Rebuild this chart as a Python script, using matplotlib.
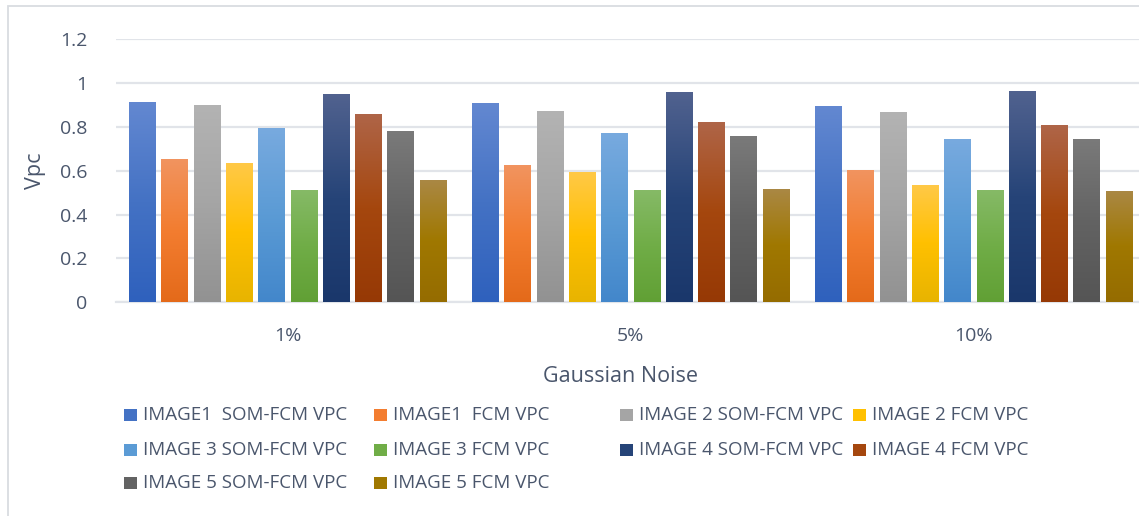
import numpy as np
import matplotlib.pyplot as plt
from matplotlib.patches import Rectangle
from matplotlib.colors import LinearSegmentedColormap

plt.rcParams['font.family'] = ['Open Sans', 'DejaVu Sans']

noise_levels = ['1%', '5%', '10%']
series_names = ['IMAGE1  SOM-FCM VPC', 'IMAGE1  FCM VPC',
                'IMAGE 2 SOM-FCM VPC', 'IMAGE 2 FCM VPC',
                'IMAGE 3 SOM-FCM VPC', 'IMAGE 3 FCM VPC',
                'IMAGE 4 SOM-FCM VPC', 'IMAGE 4 FCM VPC',
                'IMAGE 5 SOM-FCM VPC', 'IMAGE 5 FCM VPC']

img1_som = [0.915, 0.910, 0.896]
img1_fcm = [0.654, 0.627, 0.604]
img2_som = [0.901, 0.874, 0.869]
img2_fcm = [0.636, 0.595, 0.536]
img3_som = [0.796, 0.773, 0.746]
img3_fcm = [0.513, 0.513, 0.513]
img4_som = [0.951, 0.960, 0.965]
img4_fcm = [0.860, 0.823, 0.810]
img5_som = [0.782, 0.759, 0.746]
img5_fcm = [0.558, 0.517, 0.508]

series = [img1_som, img1_fcm, img2_som, img2_fcm, img3_som,
          img3_fcm, img4_som, img4_fcm, img5_som, img5_fcm]

# (top, middle, bottom) shades for the vertical gradient of each series
shades = [('#6388D1', '#4472C4', '#2F61BD'),
          ('#F19460', '#F37D30', '#E46A1A'),
          ('#B3B3B3', '#A5A5A5', '#929292'),
          ('#FFC948', '#FFC000', '#E8B400'),
          ('#78AADF', '#5B9BD5', '#4387CB'),
          ('#86BA67', '#70AD47', '#61A035'),
          ('#51628F', '#264478', '#1A376B'),
          ('#AF6548', '#A5470E', '#963905'),
          ('#7A7A7A', '#636363', '#555555'),
          ('#AA8845', '#A07800', '#956C00')]

text_color = '#4A566C'
grid_color = '#E1E4E9'

fig = plt.figure(figsize=(11.39, 5.16), dpi=100)
fig.patch.set_facecolor('white')

# chart frame (runs off the right and bottom edges)
fig.patches.append(Rectangle((8 / 1139, -0.2), 1.2, 1.2 - 6 / 516,
                             transform=fig.transFigure, fill=False,
                             edgecolor='#D9DCE1', linewidth=1.3))

ax = fig.add_axes([116.35 / 1139, 1 - 302.3 / 516, 1029 / 1139, 263 / 516])

x = np.arange(len(noise_levels))
width = 0.0787
step = 0.0942

for i, vals in enumerate(series):
    top, mid, bot = shades[i]
    cmap = LinearSegmentedColormap.from_list('g%d' % i, [bot, mid, top])
    grad = np.linspace(0, 1, 128).reshape(-1, 1)
    bars = ax.bar(x + (i - 4.5) * step, vals, width, color=mid, zorder=2)
    for b in bars:
        x0, y0 = b.get_x(), b.get_y()
        im = ax.imshow(grad, cmap=cmap, origin='lower', aspect='auto',
                       extent=(x0, x0 + b.get_width(), y0, y0 + b.get_height()),
                       zorder=3)
        im.set_clip_path(b)

ax.set_xlim(-0.5, 2.5)
ax.set_ylim(0, 1.2)
ax.set_yticks([0, 0.2, 0.4, 0.6, 0.8, 1.0, 1.2])
ax.set_yticklabels(['0', '0.2', '0.4', '0.6', '0.8', '1', '1.2'])
ax.set_xticks(x)
ax.set_xticklabels(noise_levels)
ax.tick_params(length=0, labelsize=14, labelcolor=text_color)
ax.tick_params(axis='y', pad=21)
ax.tick_params(axis='x', pad=18)
ax.grid(axis='y', color=grid_color, linewidth=1.6, zorder=0)
ax.set_axisbelow(True)
for s in ['top', 'right', 'left']:
    ax.spines[s].set_visible(False)
ax.spines['bottom'].set_color(grid_color)
ax.spines['bottom'].set_linewidth(1.6)

ax.set_ylabel('Vpc', fontsize=15.5, color=text_color)
ax.yaxis.set_label_coords(-0.0684, 0.5)
ax.set_xlabel('Gaussian Noise', fontsize=15.5, color=text_color)
ax.xaxis.set_label_coords((620 - 116.35) / 1029, -(366 - 302.3) / 263)

# legend laid out in four columns, row by row
col_x = [124, 374, 620, 853]
row_y = [415, 450, 483]
sq = 12.7
for k, name in enumerate(series_names):
    r, c = divmod(k, 4)
    px, py = col_x[c], row_y[r]
    fig.patches.append(Rectangle((px / 1139, 1 - (py + sq / 2) / 516),
                                 sq / 1139, sq / 516,
                                 transform=fig.transFigure,
                                 facecolor=shades[k][1], edgecolor='none'))
    fig.text((px + 18.7) / 1139, 1 - py / 516, name, fontsize=13.5,
             color=text_color, va='center', ha='left')

fig.savefig('out.png', dpi=100)
